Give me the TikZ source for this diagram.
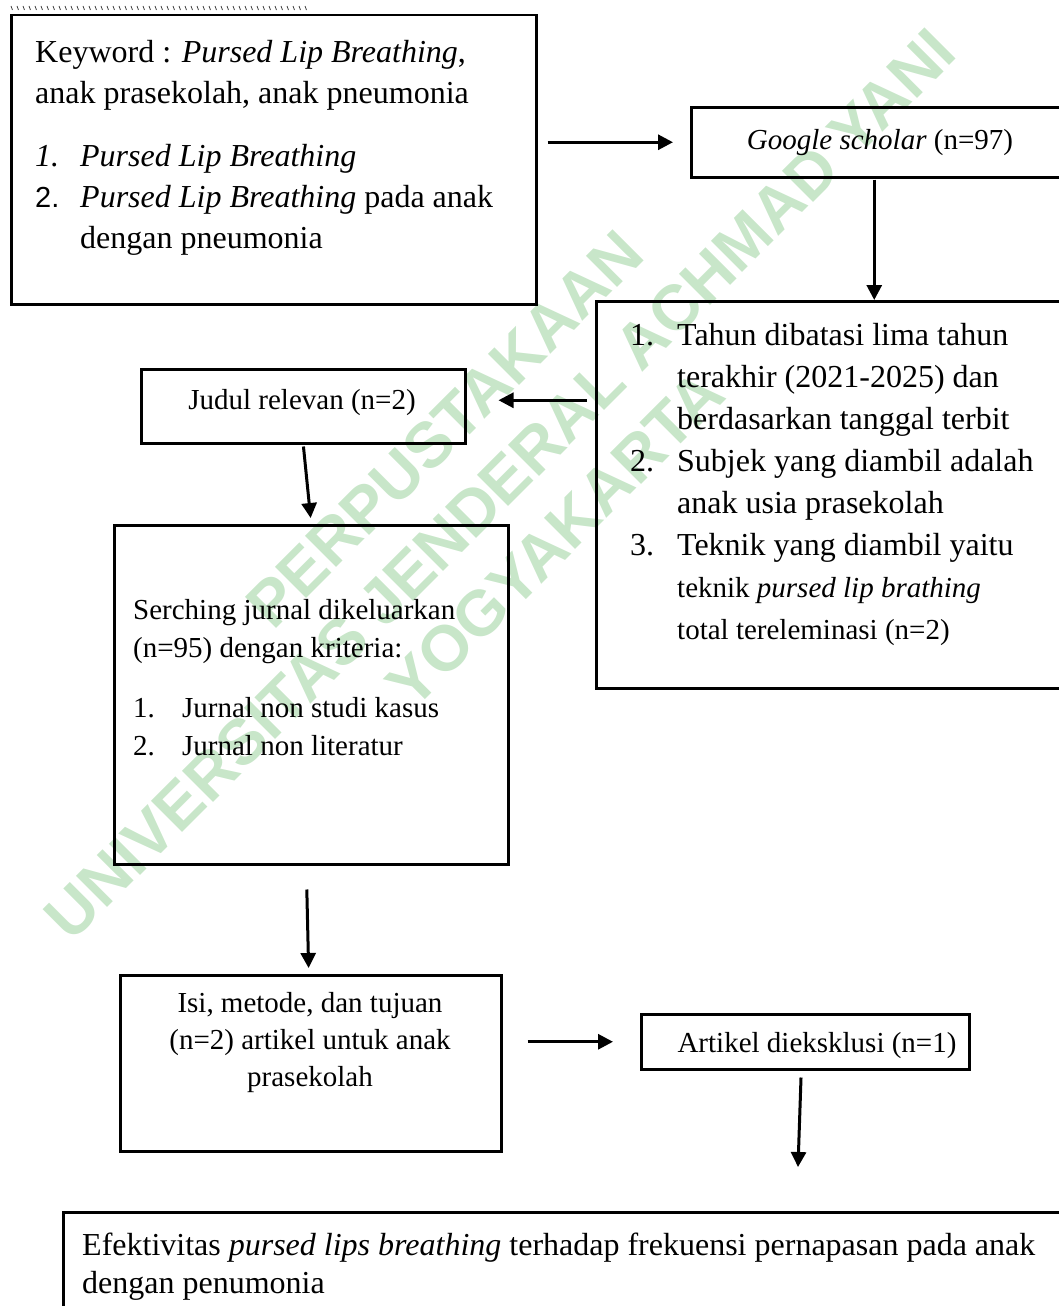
\documentclass[tikz,border=0pt]{standalone}
\usepackage{fontspec}
\setmainfont{Liberation Serif}
\newfontfamily\wmfont{Liberation Sans}
\usetikzlibrary{arrows.meta}
\definecolor{wmgreen}{RGB}{200,230,201}
\tikzset{
  box_n/.style = {draw=black, line width=2.5pt, inner sep=0pt,
    anchor=north west},
  txt_n/.style = {inner sep=0pt, align=left,
    font=\fontsize{29}{41}\selectfont},
  wm_n/.style = {inner sep=0pt, align=center, rotate=45, text=wmgreen,
    font=\wmfont\bfseries\fontsize{64}{78}\selectfont},
  arr_n/.style = {->, line width=3pt},
}

\begin{document}
\begin{tikzpicture}[x=1pt, y=-1pt, >={Triangle[length=15pt,width=15pt]}]
  \useasboundingbox (0,0) rectangle (1059,1306);
  \clip (0,0) rectangle (1059,1306);
  \node[wm_n] (wmark) at (500,484)
      {PERPUSTAKAAN\\UNIVERSITAS JENDERAL ACHMAD YANI\\YOGYAKARTA};
  \foreach \i in {0,...,49}
      \draw[line width=0.8pt, black!75] (11+6*\i,6) -- (12.5+6*\i,10);

  \node[box_n, minimum width=525pt, minimum height=289pt] (kw) at (10,14) {};
  \node[box_n, minimum width=450pt, minimum height=70pt] (gs) at (690,106) {};
  \node[box_n, minimum width=556pt, minimum height=387pt] (crit) at (595,300) {};
  \node[box_n, minimum width=324pt, minimum height=74pt] (judul) at (140,368) {};
  \node[box_n, minimum width=394pt, minimum height=339pt] (serch) at (113,524) {};
  \node[box_n, minimum width=381pt, minimum height=176pt] (isi) at (119,974) {};
  \node[box_n, minimum width=328pt, minimum height=55pt] (excl) at (640,1013) {};
  \node[box_n, minimum width=1100pt, minimum height=200pt] (hasil) at (62,1211) {};

  \node[txt_n, anchor=north west, font=\fontsize{32}{41}\selectfont] (kwtxt) at (35,34)
      {\strut Keyword : \textit{Pursed Lip Breathing},\\
       anak prasekolah, anak pneumonia\\[22pt]
       \makebox[45pt][l]{\textit{1.}}\textit{Pursed Lip Breathing}\\
       \makebox[45pt][l]{\wmfont\fontsize{29}{41}\selectfont 2.}\textit{Pursed Lip Breathing} pada anak\\
       \hspace*{45pt}dengan pneumonia};
  \node[txt_n, anchor=base] (gstxt) at (880,149)
      {\textit{Google scholar} (n=97)};
  \node[txt_n, anchor=north west, font=\fontsize{32}{42}\selectfont] (crittxt) at (630,316)
      {\strut\makebox[47pt][l]{1.}Tahun dibatasi lima tahun\\
       \hspace*{47pt}terakhir (2021-2025) dan\\
       \hspace*{47pt}berdasarkan tanggal terbit\\
       \makebox[47pt][l]{2.}Subjek yang diambil adalah\\
       \hspace*{47pt}anak usia prasekolah\\
       \makebox[47pt][l]{3.}Teknik yang diambil yaitu\\
       \hspace*{47pt}{\fontsize{29}{42}\selectfont teknik \textit{pursed lip brathing}}\\
       \hspace*{47pt}{\fontsize{29}{42}\selectfont total tereleminasi (n=2)}};
  \node[txt_n, anchor=base] (judultxt) at (302,409) {Judul relevan (n=2)};
  \node[txt_n, anchor=north west, font=\fontsize{29}{38}\selectfont] (serchtxt) at (133,593)
      {\strut Serching jurnal dikeluarkan\\
       (n=95) dengan kriteria:\\[22pt]
       \makebox[49pt][l]{1.}Jurnal non studi kasus\\
       \makebox[49pt][l]{2.}Jurnal non literatur};
  \node[txt_n, anchor=north, align=center, font=\fontsize{29}{37}\selectfont] (isitxt) at (310,986)
      {\strut Isi, metode, dan tujuan\\
       (n=2) artikel untuk anak\\
       prasekolah};
  \node[txt_n, anchor=base] (excltxt) at (817,1052) {Artikel dieksklusi (n=1)};
  \node[txt_n, anchor=north west, font=\fontsize{32}{38}\selectfont] (hasiltxt) at (82,1229)
      {\strut Efektivitas \textit{pursed lips breathing} terhadap frekuensi pernapasan pada anak\\
       dengan penumonia};

  \coordinate (jin) at ([yshift=6pt]judul.east);
  \coordinate (hasilin) at (798,1167);
  \draw[arr_n, shorten <=10pt, shorten >=17pt] (kw.east |- gs.west) -- (gs.west);
  \draw[arr_n, shorten <=1pt] (gs.south -| crit.north) -- (crit.north);
  \draw[arr_n, shorten <=8pt, shorten >=32pt] (crit.west |- jin) -- (jin);
  \draw[arr_n, shorten <=2pt, shorten >=6pt] (judul.south) -- (serch.north);
  \draw[arr_n, shorten <=24pt, shorten >=6pt] ([xshift=-5pt]serch.south) -- ([xshift=-2pt]isi.north);
  \draw[arr_n, shorten <=25pt, shorten >=27pt] (isi.east |- excl.west) -- (excl.west);
  \draw[arr_n, shorten <=7pt] ([xshift=-4pt]excl.south) -- (hasilin);
\end{tikzpicture}
\end{document}
